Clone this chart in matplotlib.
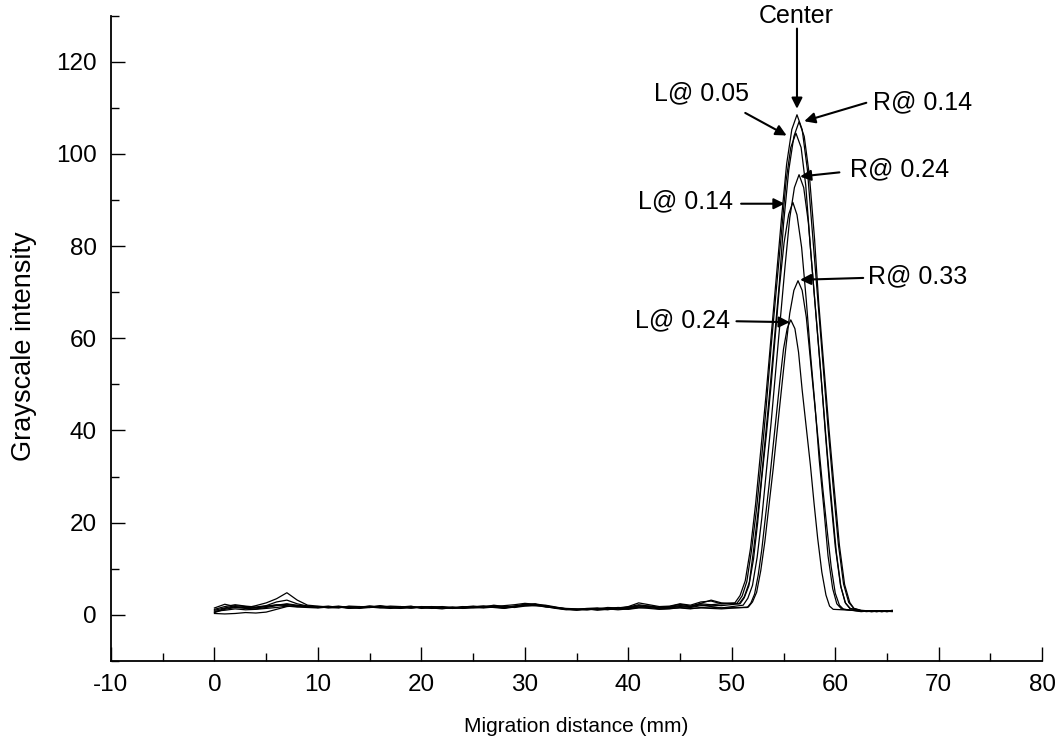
import matplotlib
matplotlib.use("Agg")
import matplotlib.pyplot as plt
from matplotlib.ticker import MultipleLocator
import numpy as np

plt.rcParams['font.family'] = ['Liberation Sans', 'DejaVu Sans']
plt.rcParams['axes.unicode_minus'] = False

# ---------------- data ----------------
labels = ["Center", "R@ 0.14", "L@ 0.05", "R@ 0.24", "L@ 0.14", "R@ 0.33", "L@ 0.24"]

base_x = list(range(50))  # 0 .. 49 mm
tail_x = [62.5, 63.0, 63.5, 64.0, 64.5, 65.0, 65.5]

# baseline (0-49 mm)
base_center = [1.0, 1.5, 2.0, 1.8, 1.6, 1.9, 2.2, 2.0, 1.8, 1.9,
               1.7, 1.6, 1.8, 1.5, 1.7, 1.9, 1.6, 1.4, 1.6, 1.8,
               1.5, 1.6, 1.7, 1.5, 1.6, 1.8, 1.9, 1.7, 1.5, 1.8,
               2.2, 2.4, 2.0, 1.5, 1.2, 1.1, 1.3, 1.2, 1.4, 1.3,
               1.6, 2.0, 1.8, 1.5, 1.7, 2.0, 1.8, 2.4, 2.2, 2.4]
base_r014 = [0.5, 1.2, 1.6, 1.4, 1.3, 1.6, 2.0, 2.3, 1.9, 1.7,
             1.8, 1.5, 1.6, 1.7, 1.4, 1.6, 2.0, 1.7, 1.5, 1.7,
             1.6, 1.4, 1.5, 1.7, 1.4, 1.5, 1.7, 2.1, 1.8, 1.6,
             1.9, 2.0, 2.1, 1.7, 1.3, 1.0, 1.2, 1.4, 1.1, 1.5,
             1.4, 1.7, 1.9, 1.6, 1.5, 1.8, 1.6, 2.0, 2.1, 2.0]
base_l005 = [1.5, 2.3, 1.8, 1.5, 2.0, 2.6, 3.5, 4.8, 3.2, 2.1,
             1.9, 1.7, 1.5, 1.9, 1.8, 1.6, 1.7, 1.9, 1.8, 1.5,
             1.7, 1.8, 1.6, 1.4, 1.7, 1.9, 1.6, 1.8, 2.0, 2.2,
             2.5, 2.3, 1.9, 1.6, 1.4, 1.3, 1.1, 1.3, 1.6, 1.5,
             1.8, 2.6, 2.2, 1.8, 1.9, 2.4, 2.1, 2.8, 3.0, 2.4]
base_r024 = [0.3, 0.2, 0.3, 0.5, 0.4, 0.6, 1.2, 1.8, 2.0, 1.8,
             1.6, 1.8, 1.7, 1.4, 1.5, 1.8, 1.7, 1.5, 1.4, 1.6,
             1.7, 1.5, 1.3, 1.6, 1.5, 1.7, 1.8, 1.6, 1.4, 1.7,
             2.1, 2.3, 1.8, 1.4, 1.1, 1.2, 1.3, 1.0, 1.2, 1.3,
             1.2, 1.5, 1.6, 1.3, 1.4, 1.5, 1.3, 1.6, 1.7, 1.5]
base_l014 = [1.2, 1.8, 2.2, 1.9, 1.7, 2.0, 2.8, 3.2, 2.4, 1.9,
             1.7, 1.9, 1.6, 1.8, 1.6, 1.9, 1.8, 1.6, 1.7, 1.9,
             1.4, 1.6, 1.8, 1.6, 1.5, 1.8, 1.7, 2.0, 1.7, 1.9,
             2.3, 2.2, 2.0, 1.5, 1.3, 1.2, 1.4, 1.5, 1.3, 1.4,
             1.7, 2.2, 1.9, 1.6, 1.8, 2.3, 1.9, 2.5, 3.2, 2.6]
base_r033 = [0.8, 1.0, 1.3, 1.1, 1.2, 1.4, 1.6, 1.9, 1.7, 1.6,
             1.5, 1.7, 1.8, 1.5, 1.6, 1.7, 1.5, 1.6, 1.8, 1.5,
             1.6, 1.7, 1.5, 1.6, 1.8, 1.6, 1.5, 1.7, 1.6, 1.8,
             2.0, 2.1, 1.7, 1.5, 1.2, 1.1, 1.3, 1.2, 1.3, 1.1,
             1.3, 1.6, 1.4, 1.2, 1.3, 1.6, 1.4, 1.5, 1.4, 1.3]
base_l024 = [0.6, 1.4, 1.7, 1.6, 1.5, 1.8, 2.1, 2.4, 2.1, 1.8,
             1.6, 1.7, 1.9, 1.6, 1.8, 1.7, 1.9, 1.7, 1.6, 1.5,
             1.8, 1.7, 1.6, 1.4, 1.6, 1.7, 1.9, 1.8, 1.5, 1.9,
             2.2, 2.0, 1.8, 1.6, 1.3, 1.2, 1.1, 1.3, 1.4, 1.6,
             1.5, 1.9, 1.8, 1.5, 1.6, 2.0, 1.7, 2.2, 1.8, 1.5]

# peak region
peak_x_center = [50.3, 50.8, 51.3, 51.8, 52.3, 52.8, 53.3, 53.8, 54.3, 54.8, 55.3, 55.8, 56.3,
                 56.8, 57.3, 57.8, 58.3, 58.8, 59.3, 59.8, 60.3, 60.8, 61.3, 61.8]
peak_y_center = [2.6, 4.2, 7.4, 14.3, 24.0, 35.7, 47.5, 60.4, 73.2, 86.0, 97.8, 105.3, 108.5,
                 105.3, 96.7, 82.7, 68.7, 54.7, 40.6, 27.7, 15.3, 6.7, 2.7, 1.4]

peak_x_r014 = [50.7, 51.2, 51.7, 52.1, 52.6, 53.1, 53.6, 54.1, 54.6, 55.0, 55.5, 56.0, 56.5,
               57.0, 57.5, 58.0, 58.4, 58.9, 59.4, 59.9, 60.4, 60.9, 61.4, 61.8]
peak_y_r014 = [2.4, 3.9, 7.1, 14.0, 23.5, 35.1, 46.8, 59.4, 72.1, 84.8, 96.4, 103.8, 107.0,
               103.8, 95.3, 81.5, 67.7, 53.9, 40.1, 27.4, 15.1, 6.6, 2.7, 1.4]

peak_x_l005 = [50.5, 51.0, 51.45, 51.9, 52.4, 52.9, 53.35, 53.8, 54.3, 54.8, 55.25, 55.7, 56.2,
               56.7, 57.15, 57.6, 58.1, 58.6, 59.05, 59.5, 60.0, 60.5, 60.95, 61.4]
peak_y_l005 = [2.5, 4.1, 7.2, 13.9, 23.1, 34.5, 45.8, 58.2, 70.5, 82.9, 94.2, 101.4, 104.5,
               101.4, 93.1, 79.6, 66.1, 52.7, 39.2, 26.7, 14.8, 6.5, 2.7, 1.4]

peak_x_r024 = [51.1, 51.55, 52.0, 52.45, 52.9, 53.35, 53.8, 54.25, 54.7, 55.15, 55.6, 56.05, 56.5,
               56.95, 57.4, 57.85, 58.3, 58.75, 59.2, 59.65, 60.1, 60.55, 61.0, 61.45]
peak_y_r024 = [2.1, 3.6, 6.4, 12.5, 21.0, 31.4, 41.7, 53.1, 64.4, 75.7, 86.1, 92.7, 95.5,
               92.7, 85.1, 72.8, 60.5, 48.2, 35.8, 24.5, 13.6, 6.0, 2.5, 1.4]

peak_x_l014 = [50.8, 51.2, 51.65, 52.1, 52.5, 52.9, 53.35, 53.8, 54.2, 54.6, 55.05, 55.5, 55.9,
               56.3, 56.75, 57.2, 57.6, 58.05, 58.45, 58.9, 59.3, 59.75, 60.15, 60.6]
peak_y_l014 = [2.4, 3.7, 6.3, 12.1, 20.0, 29.7, 39.3, 49.9, 60.5, 71.0, 80.7, 86.9, 89.5,
               86.8, 79.7, 68.2, 56.7, 45.2, 33.6, 23.0, 12.8, 5.7, 2.4, 1.3]

peak_x_r033 = [51.6, 52.0, 52.4, 52.8, 53.2, 53.6, 54.0, 54.4, 54.8, 55.2, 55.6, 56.0, 56.4,
               56.8, 57.2, 57.6, 58.0, 58.4, 58.8, 59.2, 59.6, 60.0, 60.4, 60.8]
peak_y_r033 = [1.7, 2.8, 4.9, 9.6, 16.0, 23.9, 31.7, 40.3, 48.9, 57.5, 65.4, 70.4, 72.5,
               70.4, 64.6, 55.3, 46.0, 36.7, 27.3, 18.7, 10.5, 4.7, 2.1, 1.2]

peak_x_l024 = [51.5, 51.85, 52.2, 52.55, 52.9, 53.25, 53.6, 53.95, 54.3, 54.65, 55.0, 55.35, 55.7,
               56.1, 56.45, 56.8, 57.2, 57.6, 57.95, 58.3, 58.7, 59.1, 59.45, 59.8]
peak_y_l024 = [1.6, 2.6, 4.5, 8.6, 14.2, 21.2, 28.1, 35.7, 43.2, 50.8, 57.7, 62.1, 64.0,
               62.1, 57.0, 48.8, 40.6, 32.4, 24.2, 16.6, 9.3, 4.3, 1.9, 1.2]

# tail (62.5-65.5 mm)
tail_center = [1.0, 0.9, 0.8, 0.9, 0.7, 0.8, 0.9]
tail_r014 = [0.9, 0.8, 0.9, 0.7, 0.8, 0.9, 0.8]
tail_l005 = [0.8, 0.9, 0.7, 0.8, 0.9, 0.7, 1.0]
tail_r024 = [0.9, 0.7, 0.8, 0.9, 0.8, 0.7, 0.8]
tail_l014 = [0.7, 0.8, 0.9, 0.8, 0.7, 0.9, 0.8]
tail_r033 = [0.8, 0.9, 0.8, 0.7, 0.9, 0.8, 0.9]
tail_l024 = [0.9, 0.8, 0.7, 0.8, 0.9, 0.8, 0.7]

series = [
    (base_center, peak_x_center, peak_y_center, tail_center),
    (base_r014, peak_x_r014, peak_y_r014, tail_r014),
    (base_l005, peak_x_l005, peak_y_l005, tail_l005),
    (base_r024, peak_x_r024, peak_y_r024, tail_r024),
    (base_l014, peak_x_l014, peak_y_l014, tail_l014),
    (base_r033, peak_x_r033, peak_y_r033, tail_r033),
    (base_l024, peak_x_l024, peak_y_l024, tail_l024),
]

# annotations: (label, text pos, ha, va, arrow tail, arrow tip)
annotations = [
    ("Center", (56.2, 127.4), "center", "bottom", (56.3, 127.2), (56.3, 109.8)),
    ("L@ 0.05", (47.1, 113.2), "center", "center", (51.3, 108.9), (55.3, 104.0)),
    ("R@ 0.14", (63.6, 111.1), "left", "center", (63.0, 111.1), (57.0, 107.1)),
    ("R@ 0.24", (61.4, 96.6), "left", "center", (60.4, 96.0), (56.6, 95.1)),
    ("L@ 0.14", (50.1, 89.7), "right", "center", (50.9, 89.2), (55.1, 89.2)),
    ("R@ 0.33", (63.15, 73.4), "left", "center", (62.7, 73.1), (56.6, 72.7)),
    ("L@ 0.24", (49.8, 64.0), "right", "center", (50.45, 63.7), (55.6, 63.5)),
]

# ---------------- plot ----------------
fig = plt.figure(figsize=(10.57, 7.46), dpi=100)
ax = fig.add_axes([0.105, 0.114, 0.881, 0.865])

for base_y, px, py, ty in series:
    xs = list(base_x) + list(px) + list(tail_x)
    ys = list(base_y) + list(py) + list(ty)
    ax.plot(xs, ys, color="black", lw=0.9)

for text, tpos, ha, va, tail, tip in annotations:
    ax.text(tpos[0], tpos[1], text, ha=ha, va=va, fontsize=18, clip_on=False)
    ax.annotate("", xy=tip, xytext=tail,
                arrowprops=dict(arrowstyle="-|>", color="black", lw=1.5,
                                mutation_scale=16, shrinkA=0, shrinkB=0))

ax.set_xlim(-10, 80)
ax.set_ylim(-10, 130)
ax.xaxis.set_major_locator(MultipleLocator(10))
ax.xaxis.set_minor_locator(MultipleLocator(5))
ax.yaxis.set_major_locator(MultipleLocator(20))
ax.yaxis.set_minor_locator(MultipleLocator(10))
ax.set_yticks([0, 20, 40, 60, 80, 100, 120])

for s in ["top", "right"]:
    ax.spines[s].set_visible(False)
for s in ["left", "bottom"]:
    ax.spines[s].set_linewidth(1.3)

ax.tick_params(which="major", direction="in", length=10, width=1.0, labelsize=17.5)
ax.tick_params(which="minor", direction="in", length=5.5, width=1.0)
ax.tick_params(axis="x", which="major", pad=9.5)
ax.tick_params(axis="y", which="major", pad=10)

ax.set_xlabel("Migration distance (mm)", fontsize=15)
ax.set_ylabel("Grayscale intensity", fontsize=19.5)
ax.xaxis.set_label_coords(0.5, -0.087)
ax.yaxis.set_label_coords(-0.079, 0.488)

fig.savefig("out.png", dpi=100)
